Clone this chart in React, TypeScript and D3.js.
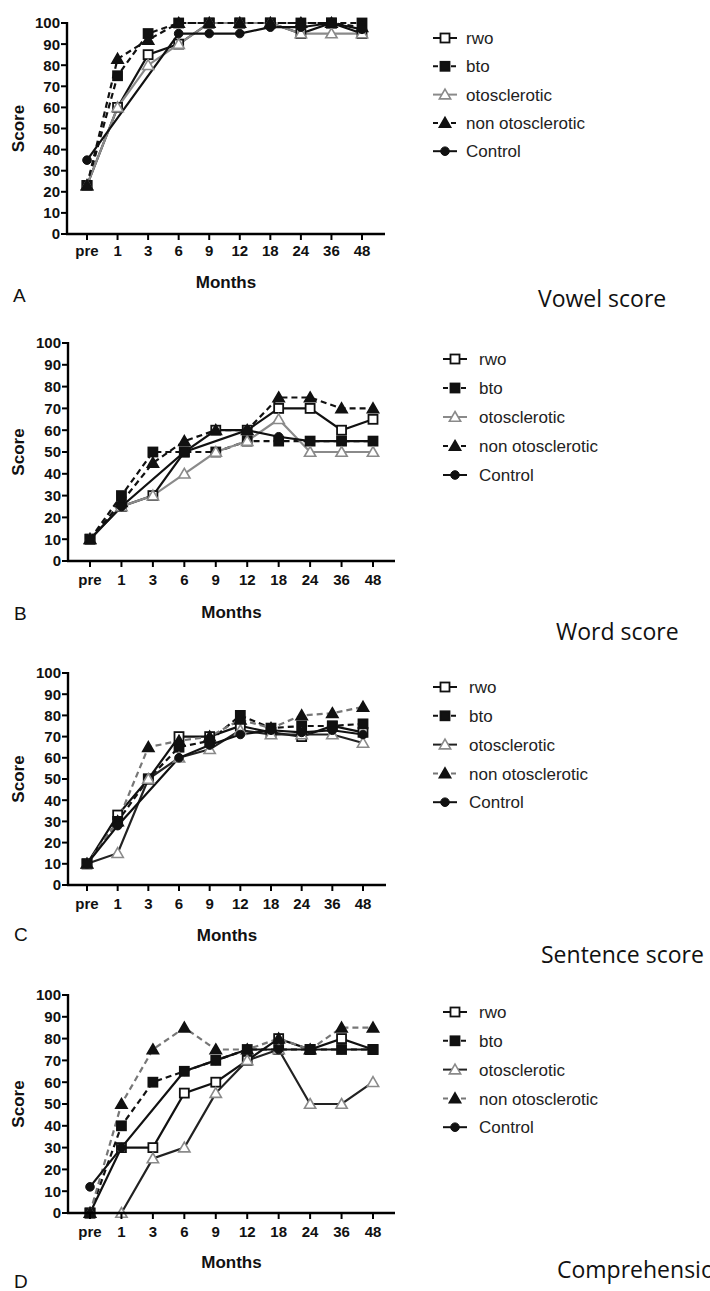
import React from "react";
import * as d3 from "d3";

const months = ["pre", "1", "3", "6", "9", "12", "18", "24", "36", "48"];
const scoreTicks = [0, 10, 20, 30, 40, 50, 60, 70, 80, 90, 100];
const groups = ["rwo", "bto", "otosclerotic", "non otosclerotic", "Control"];
const panelTitles = ["Vowel score", "Word score", "Sentence score", "Comprehension"];
const panelLetters = ["A", "B", "C", "D"];

// Vowel score (A)
const vowelRwo = [23, 60, 85, 90, 100, 100, 100, 95, 100, 95];
const vowelBto = [23, 75, 95, 100, 100, 100, 100, 100, 100, 100];
const vowelOto = [23, 60, 80, 90, 100, 100, 100, 95, 95, 95];
const vowelNonOto = [23, 83, 92, 100, 100, 100, 100, 100, 100, 98];
const vowelControl = [35, null, null, 95, 95, 95, 98, 98, 100, 97];

// Word score (B)
const wordRwo = [10, 25, 30, 50, 60, 60, 70, 70, 60, 65];
const wordBto = [10, 30, 50, 50, 50, 55, 55, 55, 55, 55];
const wordOto = [10, 25, 30, 40, 50, 55, 65, 50, 50, 50];
const wordNonOto = [10, 27, 45, 55, 60, 60, 75, 75, 70, 70];
const wordControl = [10, 25, null, 50, null, 60, 57, 55, 55, 55];

// Sentence score (C)
const sentRwo = [10, 33, 50, 70, 70, 75, 72, 70, 75, 72];
const sentBto = [10, 30, 50, 65, 68, 80, 74, 75, 75, 76];
const sentOto = [10, 15, 50, 60, 64, 73, 71, 71, 71, 67];
const sentNonOto = [10, 30, 65, 68, 70, 78, 74, 80, 81, 84];
const sentControl = [10, 28, null, 60, 66, 71, 73, 72, 73, 71];

// Comprehension (D)
const compRwo = [0, 30, 30, 55, 60, 70, 80, 75, 80, 75];
const compBto = [0, 40, 60, 65, 70, 75, 75, 75, 75, 75];
const compOto = [0, 0, 25, 30, 55, 70, 75, 50, 50, 60];
const compNonOto = [0, 50, 75, 85, 75, 75, 80, 75, 85, 85];
const compControl = [12, 30, null, 65, 70, 75, 75, 75, 75, 75];

const panelData = [
  [vowelRwo, vowelBto, vowelOto, vowelNonOto, vowelControl],
  [wordRwo, wordBto, wordOto, wordNonOto, wordControl],
  [sentRwo, sentBto, sentOto, sentNonOto, sentControl],
  [compRwo, compBto, compOto, compNonOto, compControl],
];

// layout (positions, not data)
const layouts = [
  { x0: 67, x1: 385, pF: 87, pL: 362, yTop: 23, yBot: 234, tickY: 256, monthsY: 288, lx: 13, ly: 302, tx: 538, ty: 307, mx: 445, txt: 466, ry: 38, rs: 28.3 },
  { x0: 68, x1: 395, pF: 90, pL: 373, yTop: 343, yBot: 561, tickY: 585, monthsY: 618, lx: 14, ly: 620, tx: 556, ty: 640, mx: 455, txt: 479, ry: 359, rs: 29 },
  { x0: 68, x1: 386, pF: 87, pL: 363, yTop: 673, yBot: 885, tickY: 909, monthsY: 941, lx: 14, ly: 941, tx: 541, ty: 963, mx: 445, txt: 469, ry: 687, rs: 28.8 },
  { x0: 68, x1: 395, pF: 90, pL: 373, yTop: 995, yBot: 1213, tickY: 1237, monthsY: 1268, lx: 14, ly: 1288, tx: 557, ty: 1278, mx: 455, txt: 479, ry: 1012, rs: 28.8 },
];

const GRAY = "#8a8a8a";
// per panel series styles
function seriesStyle(panel: number, s: number) {
  const late = panel >= 2;
  switch (s) {
    case 0: return { stroke: "#111", dash: null, marker: "square", fill: "#fff", mstroke: "#111" };
    case 1: return { stroke: "#111", dash: "6,4", marker: "square", fill: "#111", mstroke: "#111" };
    case 2: return { stroke: late ? "#222" : GRAY, dash: null, marker: "triangle", fill: "#fff", mstroke: GRAY };
    case 3: return { stroke: late ? "#777" : "#111", dash: "6,4", marker: "triangle", fill: "#111", mstroke: "#111" };
    default: return { stroke: "#111", dash: null, marker: "circle", fill: "#111", mstroke: "#111" };
  }
}

function Marker({ x, y, st }: any) {
  if (st.marker === "square") {
    return <rect x={x - 4.5} y={y - 4.5} width={9} height={9} fill={st.fill} stroke={st.mstroke} strokeWidth={1.8} />;
  }
  if (st.marker === "triangle") {
    const sym = d3.symbol().type(d3.symbolTriangle).size(55)();
    return <path d={sym || ""} transform={`translate(${x},${y + 1})`} fill={st.fill} stroke={st.mstroke} strokeWidth={1.6} />;
  }
  return <circle cx={x} cy={y} r={4.3} fill={st.fill} stroke={st.mstroke} strokeWidth={1} />;
}

function Panel({ idx }: { idx: number }) {
  const L = layouts[idx];
  const x = d3.scalePoint<string>().domain(months).range([L.pF, L.pL]);
  const y = d3.scaleLinear().domain([0, 100]).range([L.yBot, L.yTop]);
  const series = panelData[idx];
  const line = d3
    .line<[string, number | null]>()
    .x((d) => x(d[0]) as number)
    .y((d) => y(d[1] as number));
  const axisFont = "'Liberation Sans', Arial, sans-serif";
  return (
    <g>
      {/* series lines */}
      {series.map((vals, s) => {
        const st = seriesStyle(idx, s);
        const pts = months.map((m, i) => [m, vals[i]] as [string, number | null]).filter((d) => d[1] != null);
        return (
          <path key={"l" + s} d={line(pts) || ""} fill="none" stroke={st.stroke} strokeWidth={2.2} strokeDasharray={st.dash || undefined} />
        );
      })}
      {/* markers */}
      {series.map((vals, s) => {
        const st = seriesStyle(idx, s);
        return (
          <g key={"m" + s}>
            {months.map((m, i) =>
              vals[i] == null ? null : <Marker key={i} x={x(m) as number} y={y(vals[i] as number)} st={st} />
            )}
          </g>
        );
      })}
      {/* axes */}
      <line x1={L.x0} x2={L.x0} y1={L.yTop - 1} y2={L.yBot} stroke="#000" strokeWidth={2.4} />
      <line x1={L.x0 - 1} x2={L.x1} y1={L.yBot} y2={L.yBot} stroke="#000" strokeWidth={2.4} />
      {scoreTicks.map((t) => (
        <g key={"yt" + t}>
          <line x1={L.x0 - 6} x2={L.x0} y1={y(t)} y2={y(t)} stroke="#000" strokeWidth={2} />
          <text x={L.x0 - 7} y={y(t)} dy="0.36em" textAnchor="end" fontFamily={axisFont} fontWeight="bold" fontSize={15} fill="#111">
            {t}
          </text>
        </g>
      ))}
      {months.map((m) => (
        <g key={"xt" + m}>
          <line x1={x(m)} x2={x(m)} y1={L.yBot} y2={L.yBot + 6} stroke="#000" strokeWidth={2} />
          <text x={x(m)} y={L.tickY} textAnchor="middle" fontFamily={axisFont} fontWeight="bold" fontSize={15} fill="#111">
            {m}
          </text>
        </g>
      ))}
      <text x={(L.x0 + L.x1) / 2} y={L.monthsY} textAnchor="middle" fontFamily={axisFont} fontWeight="bold" fontSize={17} fill="#111">
        Months
      </text>
      <text
        transform={`translate(${24},${(L.yTop + L.yBot) / 2}) rotate(-90)`}
        textAnchor="middle"
        fontFamily={axisFont}
        fontWeight="bold"
        fontSize={17}
        fill="#111"
      >
        Score
      </text>
      <text x={L.lx} y={L.ly} fontFamily={axisFont} fontSize={19} fill="#111">
        {panelLetters[idx]}
      </text>
      <text x={L.tx} y={L.ty} fontFamily="'Open Sans', 'Noto Sans', sans-serif" fontSize={23} fill="#111">
        {panelTitles[idx]}
      </text>
      {/* legend */}
      {groups.map((g, s) => {
        const st = seriesStyle(idx, s);
        const cy = L.ry + s * L.rs;
        return (
          <g key={"lg" + s}>
            <line x1={L.mx - 12} x2={L.mx + 12} y1={cy} y2={cy} stroke={st.stroke} strokeWidth={2} strokeDasharray={st.dash ? "5,4" : undefined} />
            <Marker x={L.mx} y={cy} st={st} />
            <text x={L.txt} y={cy} dy="0.36em" fontFamily={axisFont} fontSize={17} fill="#222">
              {g}
            </text>
          </g>
        );
      })}
    </g>
  );
}

export default function App() {
  return (
    <svg
      width={710}
      height={1291}
      viewBox="0 0 710 1291"
      style={{ position: "absolute", left: 0, top: 0, background: "#fff" }}
    >
      <rect x={0} y={0} width={710} height={1291} fill="#fff" />
      {[0, 1, 2, 3].map((i) => (
        <Panel key={i} idx={i} />
      ))}
    </svg>
  );
}
